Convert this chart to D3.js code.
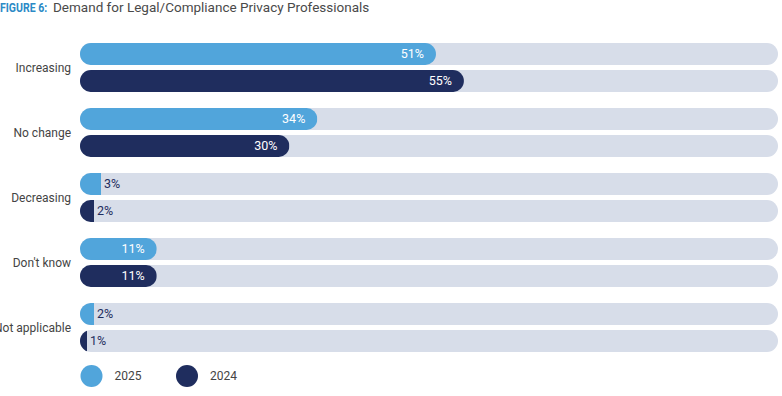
<!DOCTYPE html>
<html>
<head>
<meta charset="utf-8">
<script src="https://cdn.jsdelivr.net/npm/d3@7"></script>
<style>
  body { margin: 0; background: #fff; }
  text { font-family: Roboto, "Liberation Sans", sans-serif; }
</style>
</head>
<body>
<svg id="chart" width="782" height="396"></svg>
<script>
var categories = ["Increasing", "No change", "Decreasing", "Don't know", "Not applicable"];
var years = ["2025", "2024"];
var values2025 = [51, 34, 3, 11, 2];
var values2024 = [55, 30, 2, 11, 1];

var colors = { "2025": "#51a5db", "2024": "#1f2d5e" };
var trackColor = "#d7dde9";

var svg = d3.select("#chart");

// title, in two parts; the label part is squeezed horizontally
svg.append("text").attr("x", 0).attr("y", 12).attr("font-size", 13.5)
  .attr("font-weight", 700).attr("fill", "#2b8ac6")
  .attr("transform", "scale(0.78,1)")
  .text("FIGURE 6:");
svg.append("text").attr("x", 53).attr("y", 12).attr("font-size", 13.5)
  .attr("fill", "#4a4a4a")
  .text("Demand for Legal/Compliance Privacy Professionals");

var x = d3.scaleLinear().domain([0, 100]).range([80, 778]);
var y = d3.scaleBand().domain(categories).range([43, 352]).paddingInner(0.246);
var sub = d3.scaleBand().domain(years).range([0, y.bandwidth()]).paddingInner(0.185);
var h = sub.bandwidth();

var rows = [];
categories.forEach(function(c, i) {
  rows.push({ cat: c, year: "2025", value: values2025[i] });
  rows.push({ cat: c, year: "2024", value: values2024[i] });
});

var defs = svg.append("defs");

// category labels
svg.selectAll(".cat").data(categories).enter().append("text")
  .attr("class", "cat")
  .attr("x", 71)
  .attr("y", function(d) { return y(d) + y.bandwidth() / 2; })
  .attr("dy", "0.35em")
  .attr("text-anchor", "end")
  .attr("font-size", 12)
  .attr("fill", "#444")
  .text(function(d) { return d; });

var g = svg.selectAll(".row").data(rows).enter().append("g")
  .attr("transform", function(d) { return "translate(0," + (y(d.cat) + sub(d.year)) + ")"; });

// background track
g.append("rect")
  .attr("x", x(0)).attr("y", 0)
  .attr("width", x(100) - x(0)).attr("height", h)
  .attr("rx", h / 2)
  .attr("fill", trackColor);

// clip so small values keep a flat right edge
g.each(function(d, i) {
  defs.append("clipPath").attr("id", "clip" + i)
    .append("rect")
    .attr("x", x(0)).attr("y", 0)
    .attr("width", x(d.value) - x(0)).attr("height", h);
});

g.append("rect")
  .attr("x", x(0)).attr("y", 0)
  .attr("width", function(d) { return Math.max(x(d.value) - x(0), h * 2); })
  .attr("height", h)
  .attr("rx", h / 2)
  .attr("clip-path", function(d, i) { return "url(#clip" + i + ")"; })
  .attr("fill", function(d) { return colors[d.year]; });

g.append("text")
  .attr("x", function(d) { return d.value >= 10 ? x(d.value) - 12 : x(d.value) + 3; })
  .attr("y", h / 2)
  .attr("dy", "0.35em")
  .attr("text-anchor", function(d) { return d.value >= 10 ? "end" : "start"; })
  .attr("font-size", 12.5)
  .attr("fill", function(d) { return d.value >= 10 ? "#fff" : "#1f2d5e"; })
  .text(function(d) { return d.value + "%"; });

// legend
var legendX = [91.5, 187];
var legend = svg.selectAll(".legend").data(years).enter().append("g")
  .attr("transform", function(d, i) { return "translate(" + legendX[i] + ",376)"; });
legend.append("circle").attr("r", 11).attr("fill", function(d) { return colors[d]; });
legend.append("text").attr("x", 23).attr("dy", "0.35em")
  .attr("font-size", 12).attr("fill", "#444")
  .text(function(d) { return d; });
</script>
</body>
</html>
